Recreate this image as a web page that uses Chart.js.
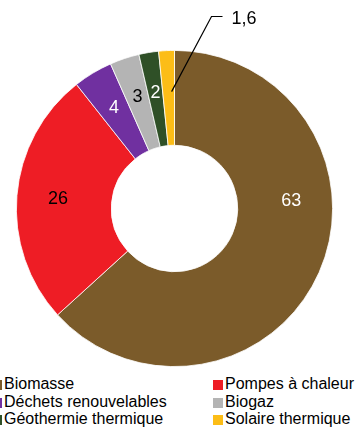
<!DOCTYPE html>
<html>
<head>
<meta charset="utf-8">
<script src="https://cdn.jsdelivr.net/npm/chart.js@4/dist/chart.umd.min.js"></script>
<style>
  html, body { margin: 0; padding: 0; background: #fff; }
  body { width: 357px; height: 427px; position: relative; overflow: hidden; font-family: "Liberation Sans", Arial, sans-serif; }
  #chart { position: absolute; left: 0; top: 0; }
  .leg { position: absolute; font-size: 16px; line-height: 17.5px; color: #000; white-space: nowrap; }
  .leg i { position: absolute; width: 10px; height: 10px; top: 5px; }
</style>
</head>
<body>
<canvas id="chart" width="357" height="375"></canvas>
<div id="legend"></div>
<script>
const categories = ['Biomasse', 'Pompes à chaleur', 'Déchets renouvelables', 'Biogaz', 'Géothermie thermique', 'Solaire thermique'];
const values = [63, 26, 4, 3, 2, 1.6];
const colors = ['#7b5b2a', '#ee1d25', '#7030a0', '#b4b4b4', '#2f5027', '#fcbd17'];
const labelColors = ['#fff', '#000', '#fff', '#000', '#fff', '#000'];

// value labels inside the ring, the last one pulled out with a leader line
const ringLabels = {
    id: 'ringLabels',
    afterDatasetsDraw(chart, args, opts) {
        const ctx = chart.ctx;
        const meta = chart.getDatasetMeta(0);
        ctx.save();
        ctx.font = '18px "Liberation Sans", Arial, sans-serif';
        meta.data.forEach((arc, i) => {
            const p = arc.getProps(['x', 'y', 'startAngle', 'endAngle', 'outerRadius']);
            const frac = opts.anchor[i];
            const a = p.startAngle + frac * (p.endAngle - p.startAngle);
            const r = p.outerRadius * 0.74;
            const px = p.x + Math.cos(a) * r;
            const py = p.y + Math.sin(a) * r;
            const text = String(values[i]).replace('.', ',');
            ctx.fillStyle = labelColors[i];
            if (i === meta.data.length - 1) {
                const ex = p.x + opts.elbow[0], ey = p.y + opts.elbow[1];
                ctx.strokeStyle = '#000';
                ctx.lineWidth = 1.2;
                ctx.beginPath();
                ctx.moveTo(px + 3, py);
                ctx.lineTo(ex, ey);
                ctx.lineTo(ex + 11, ey);
                ctx.stroke();
                ctx.textAlign = 'left';
                ctx.textBaseline = 'middle';
                ctx.fillText(text, ex + 20, ey + 3);
            } else {
                ctx.textAlign = 'center';
                ctx.textBaseline = 'middle';
                ctx.fillText(text, px, py);
            }
        });
        ctx.restore();
    }
};

new Chart(document.getElementById('chart'), {
    type: 'doughnut',
    data: {
        labels: categories,
        datasets: [{
            data: values,
            backgroundColor: colors,
            borderColor: '#fff',
            borderWidth: 0.8
        }]
    },
    options: {
        responsive: false,
        animation: false,
        cutout: '40%',
        layout: { padding: { left: 16, top: 50, right: 24, bottom: 8 } },
        plugins: {
            legend: { display: false },
            tooltip: { enabled: false },
            ringLabels: { anchor: [0.38, 0.5, 0.5, 0.5, 0.5, 0.5], elbow: [37, -192] }
        }
    },
    plugins: [ringLabels]
});

// two-column legend under the ring
const legend = document.getElementById('legend');
categories.forEach((name, i) => {
    const col = i % 2, row = Math.floor(i / 2);
    const d = document.createElement('div');
    d.className = 'leg';
    d.style.top = (375 + row * 17.5) + 'px';
    d.style.left = (col === 0 ? 4 : 225) + 'px';
    d.innerHTML = '<i style="left:-12px;background:' + colors[i] + '"></i>' + name;
    legend.appendChild(d);
});
</script>
</body>
</html>
